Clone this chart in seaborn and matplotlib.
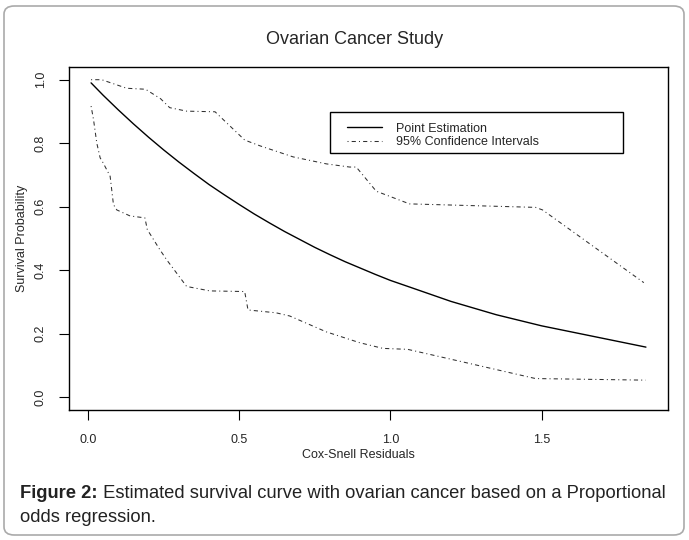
import numpy as np
import pandas as pd
import seaborn as sns
import matplotlib
matplotlib.use("Agg")
import matplotlib.pyplot as plt
from matplotlib.patches import FancyBboxPatch, Rectangle
from matplotlib.lines import Line2D

# ---- data ----
point_x = [0.01, 0.05, 0.1, 0.15, 0.2, 0.25, 0.3, 0.35, 0.4, 0.45, 0.5, 0.55, 0.6, 0.65, 0.7,
           0.75, 0.8, 0.85, 0.9, 0.95, 1.0, 1.07, 1.2, 1.35, 1.5, 1.845]
point_y = [0.99, 0.951, 0.905, 0.861, 0.819, 0.779, 0.741, 0.705, 0.670, 0.638, 0.607, 0.577,
           0.549, 0.522, 0.497, 0.472, 0.449, 0.427, 0.407, 0.387, 0.368, 0.345, 0.302, 0.26,
           0.225, 0.158]

upper_x = [0.01, 0.045, 0.128, 0.19, 0.24, 0.27, 0.326, 0.42, 0.518, 0.568, 0.678, 0.788,
           0.865, 0.887, 0.953, 1.063, 1.48, 1.503, 1.838]
upper_y = [1.0, 1.0, 0.973, 0.97, 0.94, 0.912, 0.901, 0.899, 0.81, 0.792, 0.757, 0.735,
           0.725, 0.725, 0.649, 0.609, 0.598, 0.59, 0.361]

lower_x = [0.01, 0.018, 0.029, 0.04, 0.05, 0.073, 0.084, 0.095, 0.139, 0.188, 0.196, 0.238,
           0.26, 0.326, 0.403, 0.518, 0.529, 0.622, 0.667, 0.788, 0.898, 0.975, 1.057,
           1.48, 1.844]
lower_y = [0.917, 0.875, 0.80, 0.754, 0.738, 0.696, 0.607, 0.59, 0.571, 0.565, 0.528, 0.464,
           0.433, 0.349, 0.335, 0.333, 0.275, 0.266, 0.256, 0.206, 0.172, 0.154, 0.151,
           0.059, 0.054]

x_ticks = [0.0, 0.5, 1.0, 1.5]
x_tick_labels = ["0.0", "0.5", "1.0", "1.5"]
y_ticks = [0.0, 0.2, 0.4, 0.6, 0.8, 1.0]
y_tick_labels = ["0.0", "0.2", "0.4", "0.6", "0.8", "1.0"]

title = "Ovarian Cancer Study"
xlabel = "Cox-Snell Residuals"
ylabel = "Survival Probability"
legend_labels = ["Point Estimation", "95% Confidence Intervals"]
caption_bold = "Figure 2:"
caption_rest = " Estimated survival curve with ovarian cancer based on a Proportional"
caption_line2 = "odds regression."

# ---- style ----
sns.set_style("white")
plt.rcParams["font.family"] = ["Liberation Sans", "DejaVu Sans"]

W, H = 689, 540
fig = plt.figure(figsize=(W / 100, H / 100), dpi=100)

def fx(px):
    return px / W

def fy(py):
    return 1 - py / H

ax = fig.add_axes([fx(69), fy(410), fx(668) - fx(69), fy(67) - fy(410)])

df_point = pd.DataFrame({"x": point_x, "y": point_y})
df_upper = pd.DataFrame({"x": upper_x, "y": upper_y})
df_lower = pd.DataFrame({"x": lower_x, "y": lower_y})

dd = (1, 3, 4, 3)
ci_color = "#303030"
sns.lineplot(data=df_point, x="x", y="y", ax=ax, sort=False, estimator=None,
             color="black", linewidth=1.0)
sns.lineplot(data=df_upper, x="x", y="y", ax=ax, sort=False, estimator=None,
             color=ci_color, linewidth=0.75)
sns.lineplot(data=df_lower, x="x", y="y", ax=ax, sort=False, estimator=None,
             color=ci_color, linewidth=0.75)
ax.lines[1].set_dashes(dd)
ax.lines[2].set_dashes(dd)

ax.set_xlim(-0.063, 1.918)
ax.set_ylim(-0.04, 1.04)
ax.set_xticks(x_ticks)
ax.set_xticklabels(x_tick_labels)
ax.set_yticks(y_ticks)
ax.set_yticklabels(y_tick_labels, rotation=90, va="center")
ax.tick_params(axis="both", direction="out", length=7, width=0.8, color="black",
               labelsize=9, bottom=True, left=True, pad=9)
ax.tick_params(axis="x", pad=10)
for s in ax.spines.values():
    s.set_color("black")
    s.set_linewidth(1.0)
ax.set_xlabel("")
ax.set_ylabel("")

fig.text(fx(358), fy(455), xlabel, ha="center", va="center", fontsize=9)
fig.text(fx(22), fy(238), ylabel, ha="center", va="center", rotation=90, fontsize=9)
fig.text(fx(355), fy(40), title, ha="center", va="center", fontsize=13)

# legend box
fig.patches.append(Rectangle((fx(330), fy(153)), fx(623) - fx(330), fy(112) - fy(153),
                             transform=fig.transFigure, fill=False, edgecolor="black",
                             linewidth=1.0))
handles = [Line2D([], [], color="black", linewidth=1.0),
           Line2D([], [], color=ci_color, linewidth=0.75, dashes=dd)]
fig.legend(handles, legend_labels, loc="upper left",
           bbox_to_anchor=(fx(338), fy(114)), bbox_transform=fig.transFigure,
           frameon=False, fontsize=9, handlelength=2.8, handletextpad=1.1,
           labelspacing=0.1, borderpad=0.2)

# caption
cap_color = "#222222"
t = fig.text(fx(20), fy(493), caption_bold, ha="left", va="center", fontsize=13.2,
             fontweight="bold", color=cap_color)
fig.canvas.draw()
bb = t.get_window_extent()
fig.text(bb.x1 / W, fy(493), caption_rest, ha="left", va="center", fontsize=13.2,
         color=cap_color)
fig.text(fx(20), fy(518), caption_line2, ha="left", va="center", fontsize=13.2,
         color=cap_color)

# outer rounded border
fig.patches.append(FancyBboxPatch((fx(4), fy(535)), fx(684) - fx(4), fy(6) - fy(535),
                                  boxstyle="round,pad=0,rounding_size=0.015",
                                  transform=fig.transFigure, fill=False,
                                  edgecolor="#aaaaaa", linewidth=1.2))

fig.savefig("out.png", dpi=100)
